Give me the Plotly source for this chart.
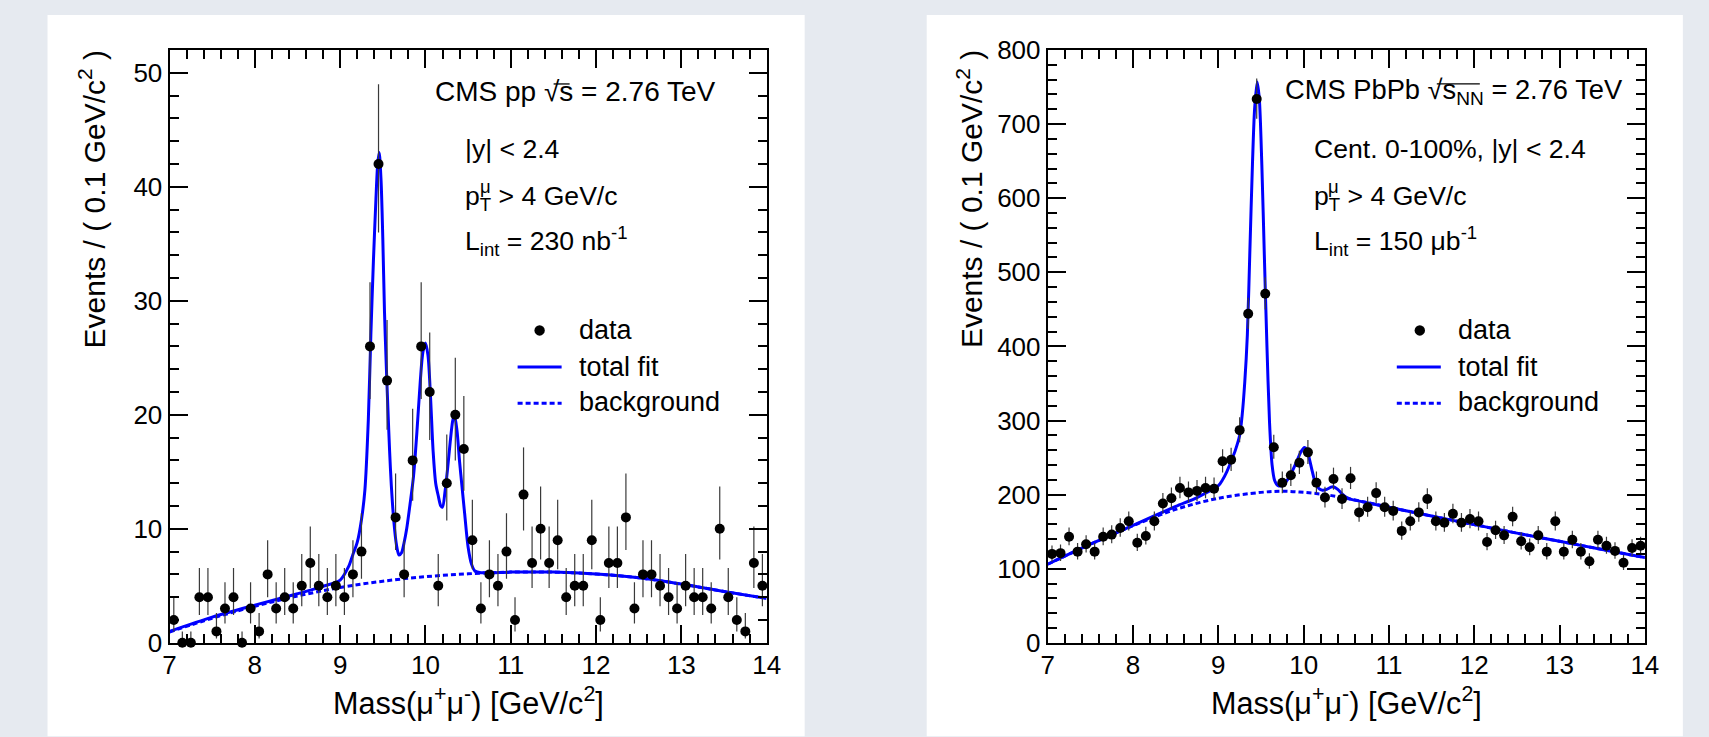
import math
import plotly.graph_objects as go

W, H = 1709, 737

# ---------------- data ----------------
mass_bins = [7.05, 7.15, 7.25, 7.35, 7.45, 7.55, 7.65, 7.75, 7.85, 7.95,
             8.05, 8.15, 8.25, 8.35, 8.45, 8.55, 8.65, 8.75, 8.85, 8.95,
             9.05, 9.15, 9.25, 9.35, 9.45, 9.55, 9.65, 9.75, 9.85, 9.95,
             10.05, 10.15, 10.25, 10.35, 10.45, 10.55, 10.65, 10.75, 10.85, 10.95,
             11.05, 11.15, 11.25, 11.35, 11.45, 11.55, 11.65, 11.75, 11.85, 11.95,
             12.05, 12.15, 12.25, 12.35, 12.45, 12.55, 12.65, 12.75, 12.85, 12.95,
             13.05, 13.15, 13.25, 13.35, 13.45, 13.55, 13.65, 13.75, 13.85, 13.95]

pp_counts = [2, 0, 0, 4, 4, 1, 3, 4, 0, 3,
             1, 6, 3, 4, 3, 5, 7, 5, 4, 5,
             4, 6, 8, 26, 42, 23, 11, 6, 16, 26,
             22, 5, 14, 20, 17, 9, 3, 6, 5, 8,
             2, 13, 7, 10, 7, 9, 4, 5, 5, 9,
             2, 7, 7, 11, 3, 6, 6, 5, 4, 3,
             5, 4, 4, 3, 10, 4, 2, 1, 7, 5]

pbpb_counts = [120, 121, 143, 123, 133, 123, 143, 146, 155, 164,
               135, 144, 164, 188, 195, 209, 203, 205, 209, 208,
               245, 247, 287, 444, 734, 471, 264, 216, 226, 243,
               257, 216, 196, 221, 194, 222, 176, 183, 202, 183,
               178, 151, 164, 176, 194, 164, 162, 174, 162, 167,
               164, 136, 152, 145, 170, 137, 129, 145, 123, 164,
               123, 139, 123, 110, 139, 131, 124, 108, 128, 131]

# total fit and background curves
pp_fit_m = [7.0, 7.5, 8.0, 8.5, 8.8, 9.0, 9.1, 9.15, 9.2, 9.25, 9.29, 9.33, 9.36, 9.39,
            9.42, 9.44, 9.458, 9.48, 9.50, 9.52, 9.54, 9.56, 9.58, 9.60, 9.63, 9.66,
            9.69, 9.72, 9.75, 9.78, 9.82, 9.86, 9.90, 9.94, 9.97, 10.0, 10.03, 10.06,
            10.09, 10.12, 10.15, 10.18, 10.20, 10.23, 10.26, 10.29, 10.32, 10.34, 10.37,
            10.40, 10.43, 10.46, 10.50, 10.54, 10.58, 10.65, 11.0, 11.5, 12.0, 12.5,
            13.0, 13.5, 14.0]
pp_fit_v = [1.0, 2.25, 3.3, 4.3, 4.95, 5.5, 6.7, 7.75, 8.8, 10.8, 13.4, 19.5, 27.0, 33.5,
            39.0, 42.0, 43.0, 40.5, 35.5, 29.0, 24.5, 20.5, 16.8, 13.8, 10.6, 8.6,
            7.7, 7.9, 8.8, 10.0, 12.2, 14.6, 18.5, 23.0, 25.5, 26.3, 25.2, 21.5,
            16.8, 14.0, 12.9, 12.0, 11.9, 13.3, 15.3, 17.6, 19.5, 20.0, 18.6,
            15.9, 13.6, 11.3, 8.4, 6.9, 6.3, 6.15, 6.2, 6.2, 6.03, 5.7,
            5.15, 4.5, 3.9]

pp_bkg_m = [7.0, 7.5, 8.0, 8.5, 9.0, 9.5, 10.0, 10.5, 11.0, 11.5, 12.0, 12.5, 13.0, 13.5, 14.0]
pp_bkg_v = [0.95, 2.15, 3.2, 4.1, 4.85, 5.4, 5.8, 6.05, 6.2, 6.2, 6.03, 5.7, 5.15, 4.5, 3.9]

pb_fit_m = [7.0, 7.5, 8.0, 8.5, 8.75, 9.0, 9.05, 9.1, 9.15, 9.2, 9.25, 9.28, 9.31, 9.34,
            9.37, 9.40, 9.425, 9.455, 9.48, 9.51, 9.54, 9.57, 9.60, 9.63, 9.66, 9.70,
            9.75, 9.81, 9.86, 9.92, 9.97, 10.01, 10.04, 10.07, 10.10, 10.14, 10.18,
            10.22, 10.27, 10.32, 10.35, 10.40, 10.45, 10.50, 10.55, 10.6, 11.0, 11.5,
            12.0, 12.5, 13.0, 13.5, 14.0]
pb_fit_v = [106, 133, 158.5, 184, 196, 212, 220, 231, 245, 260, 280, 308, 352, 415,
            530, 646, 720, 757, 735, 645, 520, 400, 298, 240, 219, 212,
            212.5, 220, 230, 245, 258, 263.5, 260, 247, 232, 215, 208,
            206, 207, 210, 210.5, 207, 201, 196.5, 194, 192.5, 183, 171,
            159.5, 148, 137, 126, 115]

pb_bkg_m = [7.0, 7.5, 8.0, 8.5, 9.0, 9.5, 9.75, 10.0, 10.25, 10.5, 11.0, 11.5, 12.0,
            12.5, 13.0, 13.5, 14.0]
pb_bkg_v = [106, 133, 158, 180, 195, 203, 204.5, 203, 200, 195, 183, 171, 159.5,
            148, 137, 126, 115]

x_ticks = [7, 8, 9, 10, 11, 12, 13, 14]


def err_hi(counts):
    return [math.sqrt(n + 0.25) + 0.5 for n in counts]


def err_lo(counts):
    return [math.sqrt(n + 0.25) - 0.5 for n in counts]


FONT = "Liberation Sans, Arial, Helvetica, sans-serif"
BLUE = "#0000ff"

# layout placement: target pixel positions mapped to paper fractions
OX, SX, OY, SY = 7.5, 0.9875, 12.9, 0.9613


def X(r):
    return ((r - OX) / SX) / W


def Y(r):
    return 1 - ((r - OY) / SY) / H


fig = go.Figure()

for xa, ya, fm, fv, bm, bv, counts in [
        ("x", "y", pp_fit_m, pp_fit_v, pp_bkg_m, pp_bkg_v, pp_counts),
        ("x2", "y2", pb_fit_m, pb_fit_v, pb_bkg_m, pb_bkg_v, pbpb_counts)]:
    fig.add_trace(go.Scatter(x=bm, y=bv, mode="lines", xaxis=xa, yaxis=ya,
                             line=dict(color=BLUE, width=3, dash="5px,3px", shape="spline"),
                             showlegend=False, hoverinfo="skip"))
    fig.add_trace(go.Scatter(x=fm, y=fv, mode="lines", xaxis=xa, yaxis=ya,
                             line=dict(color=BLUE, width=3, shape="spline", smoothing=0.8),
                             showlegend=False, hoverinfo="skip"))
    fig.add_trace(go.Scatter(x=mass_bins, y=counts, mode="markers", xaxis=xa, yaxis=ya,
                             marker=dict(color="black", size=10),
                             error_y=dict(type="data", array=err_hi(counts),
                                          arrayminus=err_lo(counts), color="#3a3a3a",
                                          thickness=1.2, width=0),
                             cliponaxis=False, showlegend=False))

axis_common = dict(showgrid=False, zeroline=False, showline=True, linecolor="black",
                   linewidth=2, mirror="ticks", ticks="inside", ticklen=18,
                   tickwidth=1.5, tickcolor="black",
                   tickfont=dict(family=FONT, size=26, color="black"))
minor_common = dict(ticklen=9, tickwidth=1.5, ticks="inside", tickcolor="black")

fig.update_layout(
    width=W, height=H, autosize=False,
    margin=dict(l=0, r=0, t=0, b=0),
    paper_bgcolor="#E6EAF0", plot_bgcolor="white",
    xaxis=dict(domain=[X(170), X(767)], range=[7, 14], tickvals=x_ticks,
               minor=dict(dtick=0.2, **minor_common), ticklabelstandoff=-2,
               anchor="y", **axis_common),
    yaxis=dict(domain=[Y(642), Y(48)], range=[0, 52], dtick=10,
               minor=dict(dtick=2, **minor_common), anchor="x", **axis_common),
    xaxis2=dict(domain=[X(1048), X(1645)], range=[7, 14], tickvals=x_ticks,
                minor=dict(dtick=0.2, **minor_common), ticklabelstandoff=-2,
                anchor="y2", **axis_common),
    yaxis2=dict(domain=[Y(642), Y(48)], range=[0, 800], dtick=100,
                minor=dict(dtick=20, **minor_common), anchor="x2", **axis_common),
)

shapes = []
# white cards
for x0, x1 in [(48, 805), (927, 1683)]:
    shapes.append(dict(type="rect", xref="paper", yref="paper", x0=X(x0), x1=X(x1),
                       y0=-0.02, y1=min(1.0, Y(12)), fillcolor="white", line=dict(width=0),
                       layer="below"))

annotations = []


def text(x, y, s, size=26.6, anchor="left", angle=0):
    annotations.append(dict(xref="paper", yref="paper", x=X(x), y=Y(y), text=s,
                            showarrow=False, xanchor=anchor, yanchor="middle",
                            textangle=angle,
                            font=dict(family=FONT, size=size, color="black")))


# axis titles
for cx, tx in [(92.7, 468.5), (970.2, 1346.5)]:
    text(cx, 197.5, "Events / ( 0.1 GeV/c<sup>2</sup> )", size=30, anchor="center", angle=-90)
    text(tx, 701.2, "Mass(μ<sup>+</sup>μ<sup>-</sup>) [GeV/c<sup>2</sup>]", size=30.6, anchor="center")

# panel texts
text(433, 89.5, "CMS pp √s = 2.76 TeV", size=28)
text(463.5, 147.5, "|y| &lt; 2.4")
text(463.5, 196.5, "p<sub>T</sub> &gt; 4 GeV/c")
text(478.2, 185, "μ", size=18.5)
text(463.5, 239, "L<sub>int</sub> = 230 nb<sup>-1</sup>")

text(1283, 89.5, "CMS PbPb √s<sub>NN</sub> = 2.76 TeV", size=27.3)
text(1312, 147.5, "Cent. 0-100%, |y| &lt; 2.4")
text(1312, 196.5, "p<sub>T</sub> &gt; 4 GeV/c")
text(1326.7, 185, "μ", size=18.5)
text(1312, 239, "L<sub>int</sub> = 150 μb<sup>-1</sup>")

# overbars of the square roots
for bx0, bx1 in [(554, 570), (1437, 1480)]:
    shapes.append(dict(type="line", xref="paper", yref="paper", x0=X(bx0), x1=X(bx1),
                       y0=Y(82), y1=Y(82), line=dict(color="black", width=1.3)))

# legends
for mx, lx0, lx1, tx in [(540, 518, 562, 577.6), (1420, 1397, 1441, 1456)]:
    shapes.append(dict(type="circle", xref="paper", yref="paper", x0=X(mx - 5.2), x1=X(mx + 5.2),
                       y0=Y(329 + 5.2), y1=Y(329 - 5.2), fillcolor="black", line=dict(width=0)))
    shapes.append(dict(type="line", xref="paper", yref="paper", x0=X(lx0), x1=X(lx1),
                       y0=Y(365.6), y1=Y(365.6), line=dict(color=BLUE, width=3)))
    shapes.append(dict(type="line", xref="paper", yref="paper", x0=X(lx0), x1=X(lx1),
                       y0=Y(402), y1=Y(402), line=dict(color=BLUE, width=3, dash="5px,3px")))
    text(tx, 328.5, "data", size=27)
    text(tx, 365.6, "total fit", size=27)
    text(tx, 401, "background", size=27)

fig.update_layout(shapes=shapes, annotations=annotations)

fig.write_html("out.html",
               config={"responsive": False, "displayModeBar": False},
               post_script="document.body.style.margin='0';"
                           "document.body.style.padding='0';"
                           "document.body.style.overflow='hidden';")
